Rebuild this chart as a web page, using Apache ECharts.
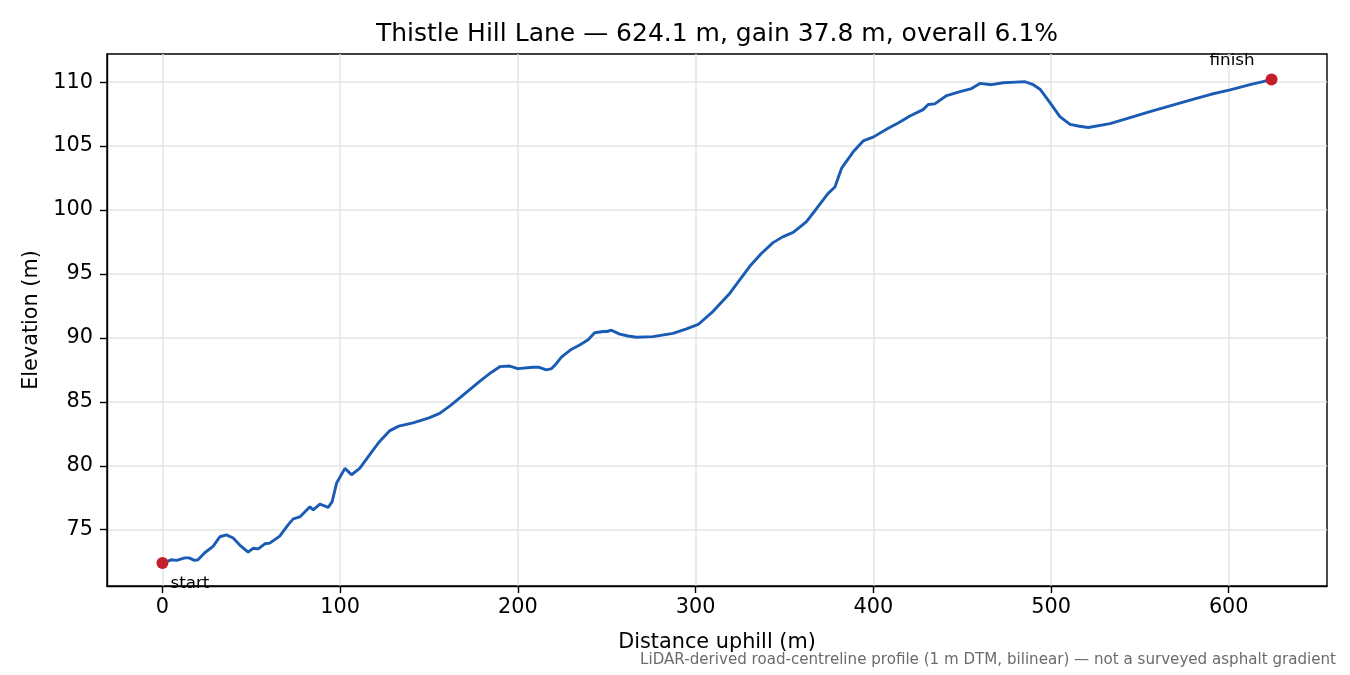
<!DOCTYPE html>
<html>
<head>
<meta charset="utf-8">
<script src="https://cdn.jsdelivr.net/npm/echarts@6/dist/echarts.min.js"></script>
<style>
html,body{margin:0;padding:0;background:#fff;}
#chart{width:1350px;height:675px;}
</style>
</head>
<body>
<div id="chart"></div>
<script>
const distances = [0,3,5,8,12.6,15,18,20,23.8,28.5,32.3,36,39.8,43.5,48.2,51,53.9,57.6,60.4,66,70.8,73.6,77.3,83,84.8,88.6,93.3,95.5,98,102.7,106.4,111,118.6,122.2,128,133,141,150,156,162,169,178.5,185,189.8,195.4,200,208.5,212,216,219,221.7,224.5,230,234.8,239.5,243.2,248,250,252.6,257.3,262,266.7,276,287.3,294.9,301.5,310,319.3,330.5,337,343.6,349,354.9,359,362.4,368,374.6,378.4,382.1,388.7,394.3,399.9,408.4,414,420.6,428,430.9,434.6,441.3,448.8,455.3,460,466.6,473.1,480,485.4,490,493.8,499.4,505,510.7,516,521,533.2,545,555.7,567,578.3,590,600.8,612,624.1];
const elevations = [72.4,72.55,72.65,72.6,72.8,72.8,72.6,72.65,73.2,73.7,74.45,74.6,74.35,73.8,73.25,73.55,73.5,73.9,73.95,74.5,75.4,75.85,76.0,76.8,76.55,77.0,76.75,77.2,78.65,79.8,79.3,79.8,81.25,81.9,82.75,83.1,83.35,83.75,84.1,84.7,85.5,86.6,87.3,87.75,87.8,87.6,87.7,87.7,87.5,87.6,88.0,88.5,89.1,89.45,89.85,90.4,90.5,90.5,90.6,90.3,90.15,90.05,90.1,90.35,90.7,91.05,92.1,93.5,95.6,96.6,97.45,97.9,98.25,98.7,99.1,100.1,101.3,101.8,103.25,104.55,105.4,105.7,106.4,106.8,107.35,107.85,108.25,108.3,108.95,109.25,109.5,109.9,109.8,109.95,110.0,110.03,109.8,109.45,108.4,107.3,106.7,106.55,106.45,106.75,107.25,107.7,108.15,108.6,109.05,109.4,109.8,110.2];
const xTicks = [0,100,200,300,400,500,600];
const yTicks = [75,80,85,90,95,100,105,110];
const endpointNames = ['start','finish'];
const endpointDistances = [0,624.1];
const endpointElevations = [72.4,110.2];
const titleText = 'Thistle Hill Lane \u2014 624.1 m, gain 37.8 m, overall 6.1%';
const xAxisTitle = 'Distance uphill (m)';
const yAxisTitle = 'Elevation (m)';
const footnote = 'LiDAR-derived road-centreline profile (1 m DTM, bilinear) \u2014 not a surveyed asphalt gradient';

const FONT = 'DejaVu Sans';
const profile = distances.map((d,i)=>[d, elevations[i]]);
const labelPlacement = [
  {position:[14,27],align:'left',verticalAlign:'middle'},
  {position:[-11,-13],align:'right',verticalAlign:'middle'}
];
const endpoints = endpointNames.map((n,i)=>({name:n, value:[endpointDistances[i], endpointElevations[i]], label:labelPlacement[i]}));

const chart = echarts.init(document.getElementById('chart'));
chart.setOption({
  animation:false,
  backgroundColor:'#ffffff',
  textStyle:{fontFamily:FONT},
  grid:{left:107,right:23,top:54,bottom:89,show:true,borderColor:'#000',borderWidth:1.4,backgroundColor:'transparent',containLabel:false},
  graphic:[
    {type:'text',x:717,y:34,style:{text:titleText,font:'25px "DejaVu Sans"',fill:'#000',textAlign:'center',textVerticalAlign:'middle'},z:10},
    {type:'text',x:1336,y:660,style:{text:footnote,font:'15.1px "DejaVu Sans"',fill:'#6b6b6b',textAlign:'right',textVerticalAlign:'middle'},z:10}
  ],
  xAxis:{
    type:'value',min:-31.2,max:655.3,
    name:xAxisTitle,nameLocation:'middle',nameGap:46,
    nameTextStyle:{fontSize:20.8,color:'#000',fontFamily:FONT},
    axisLine:{show:true,onZero:false,lineStyle:{color:'#000',width:1.4}},
    axisTick:{show:true,length:7,lineStyle:{color:'#000',width:1.4},customValues:xTicks},
    axisLabel:{show:true,customValues:xTicks,fontSize:20.8,color:'#000',margin:11,fontFamily:FONT},
    splitLine:{show:true,lineStyle:{color:'#e4e4e4',width:1.5}}
  },
  yAxis:{
    type:'value',min:70.6,max:112.2,
    name:yAxisTitle,nameLocation:'middle',nameGap:58,
    nameTextStyle:{fontSize:20.8,color:'#000',fontFamily:FONT},
    axisLine:{show:true,onZero:false,lineStyle:{color:'#000',width:1.4}},
    axisTick:{show:true,length:7,lineStyle:{color:'#000',width:1.4},customValues:yTicks},
    axisLabel:{show:true,customValues:yTicks,fontSize:20.8,color:'#000',margin:14,fontFamily:FONT},
    splitLine:{show:true,lineStyle:{color:'#e4e4e4',width:1.5}}
  },
  series:[
    {type:'line',data:profile,showSymbol:false,symbol:'none',smooth:false,
     lineStyle:{color:'#1a5cb4',width:2.9},z:3},
    {type:'scatter',data:endpoints,symbolSize:12,itemStyle:{color:'#c41e2a',opacity:1},z:4,
     label:{show:true,formatter:p=>p.name,fontSize:16.7,color:'#000',opacity:1,fontFamily:FONT},
     emphasis:{disabled:true}
    }
  ]
});
</script>
</body>
</html>
